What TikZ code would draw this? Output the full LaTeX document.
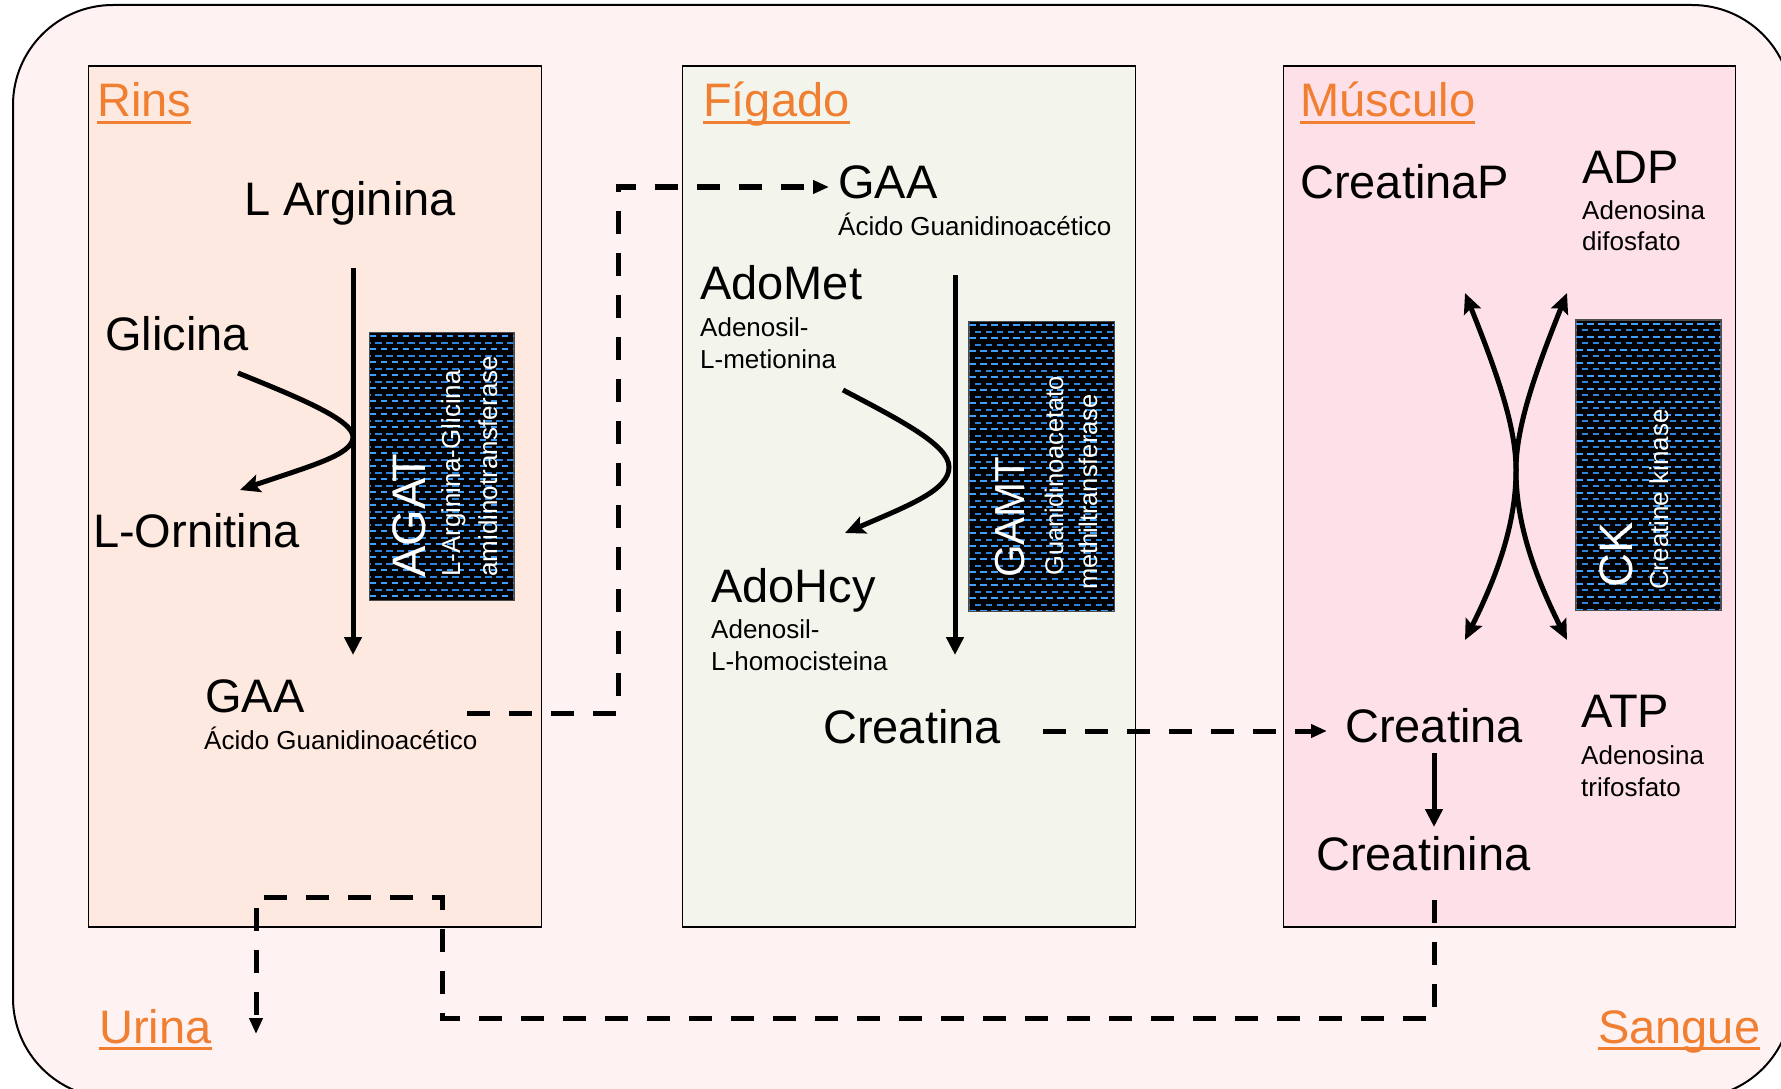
\documentclass[tikz,border=0pt]{standalone}
\usepackage{fontspec}
\setmainfont{Liberation Sans}
\usetikzlibrary{arrows.meta}
\definecolor{outerbg}{HTML}{FFF2F2}
\definecolor{rinsbg}{HTML}{FDE9E0}
\definecolor{figbg}{HTML}{F3F4EB}
\definecolor{musbg}{HTML}{FDE0E8}
\definecolor{ttlorange}{HTML}{F07F32}
\definecolor{dashA}{HTML}{3FA0FF}
\definecolor{dashB}{HTML}{2E84DC}
\newcommand\bigf{\fontsize{47pt}{56pt}\selectfont}
\newcommand\smallf{\fontsize{26pt}{31pt}\selectfont}
\newcommand\gamtf{\fontsize{42pt}{50pt}\selectfont}
\newcommand\gsmallf{\fontsize{25.5pt}{30pt}\selectfont}
% pattern of dashed blue rows inside an enzyme box: x1 y1 x2 y2
\newcommand\enzpattern[4]{%
\begin{scope}
\clip (#1,#2) rectangle (#3,#4);
\foreach \r in {0,...,46}{%
 \pgfmathsetmacro\ph{mod(\r,2)*5.5}%
 \pgfmathsetmacro\yy{#2+3.5+\r*6.5}%
 \ifodd\r \def\cc{dashB}\else\def\cc{dashA}\fi
 \draw[\cc, line width=2pt, dash pattern=on 6.5pt off 4.5pt, dash phase={\ph pt}] (#1,\yy) -- (#3,\yy);
}
\end{scope}}
\begin{document}
\begin{tikzpicture}[x=1pt,y=-1pt,
 lbl/.style={inner sep=0pt, anchor=base west, font=\bigf},
 sub/.style={inner sep=0pt, anchor=base west, font=\smallf},
 ttl/.style={inner sep=0pt, anchor=base west, font=\bigf, text=ttlorange},
 uline/.style={draw=ttlorange, line width=2.7pt},
 panel/.style={draw=black, line width=1.8pt},
 enz/.style={draw=gray!60!black, line width=1pt, fill=black, inner sep=0pt},
 enztxt/.style={inner sep=0pt, anchor=base west, rotate=90, text=white},
 flow/.style={line width=5pt, -{Triangle[length=18pt,width=17pt]}},
 curvearr/.style={line width=5pt, -{Stealth[length=20pt,width=18pt,inset=4pt]}},
 ckarr/.style={line width=5pt, {Stealth[length=20pt,width=18pt,inset=3.5pt]}-{Stealth[length=20pt,width=18pt,inset=3.5pt]}},
 dflow/.style={line width=5pt, dash pattern=on 23pt off 19pt, -{Triangle[length=16pt,width=13pt]}},
]
\useasboundingbox (0,0) rectangle (1781,1089);
% outer rounded background
\draw[line width=2pt, rounded corners=100pt, fill=outerbg] (13,5) rectangle (1792,1098);
% panels
\draw[panel, fill=rinsbg] (88.5,66) rectangle (541.5,927);
\draw[panel, fill=figbg] (682.5,66) rectangle (1135.5,927);
\draw[panel, fill=musbg] (1283.5,66) rectangle (1735.5,927);

% titles
\node[ttl] (rins) at (97,117) {Rins};
\node[ttl] (figado) at (703,117) {Fígado};
\node[ttl] (musculo) at (1300,117) {Músculo};
\node[ttl] (urina) at (99,1043) {Urina};
\node[ttl] (sangue) at (1598,1043) {Sangue};
\foreach \t in {rins,figado,musculo,urina,sangue}{
 \draw[uline] ([yshift=-5.5pt]\t.base west) -- ([yshift=-5.5pt]\t.base east);
}

% enzyme boxes
\node[enz, minimum width=144pt, minimum height=267.5pt] (agat) at (441.5,466.25) {};
\enzpattern{369.5}{332.5}{513.5}{600}
\node[enz, minimum width=144.7pt, minimum height=289.3pt] (gamt) at (1041.65,466.35) {};
\enzpattern{969.3}{321.7}{1114}{611}
\node[enz, minimum width=144.7pt, minimum height=290pt] (ck) at (1648.35,465) {};
\enzpattern{1576}{320}{1720.7}{610}
\draw[gray!60!black, line width=1pt] (agat.north west) rectangle (agat.south east);
\draw[gray!60!black, line width=1pt] (gamt.north west) rectangle (gamt.south east);
\draw[gray!60!black, line width=1pt] (ck.north west) rectangle (ck.south east);

\node[enztxt, font=\bigf] (agatT) at (425,578) {AGAT};
\node[enztxt, font=\smallf] (agatS1) at (460,577) {L-Arginina-Glicina};
\node[enztxt, font=\smallf] (agatS2) at (497,577) {amidinotransferase};
\node[enztxt, font=\gamtf] (gamtT) at (1024,578) {GAMT};
\node[enztxt, font=\gsmallf] (gamtS1) at (1063,576) {Guanidinoacetato};
\node[enztxt, font=\gsmallf] (gamtS2) at (1097,590) {methiltransferase};
\node[enztxt, font=\bigf] (ckT) at (1632,588) {CK};
\node[enztxt, font=\smallf] (ckS) at (1668,590) {Creatine kinase};

% Rins texts
\node[lbl] (larg) at (244,215) {L Arginina};
\node[lbl] (glic) at (105,350) {Glicina};
\node[lbl] (lorn) at (93,547) {L-Ornitina};
\node[lbl] (gaa1) at (205,712) {GAA};
\node[sub] (gaa1s) at (204,749) {Ácido Guanidinoacético};

% Figado texts
\node[lbl] (gaa2) at (838,198) {GAA};
\node[sub] (gaa2s) at (838,235) {Ácido Guanidinoacético};
\node[lbl] (adomet) at (700,299) {AdoMet};
\node[sub] (adomet1) at (700,336) {Adenosil-};
\node[sub] (adomet2) at (700,368) {L-metionina};
\node[lbl] (adohcy) at (711,602) {AdoHcy};
\node[sub] (adohcy1) at (711,638) {Adenosil-};
\node[sub] (adohcy2) at (711,670) {L-homocisteina};
\node[lbl] (crea1) at (823,743) {Creatina};

% Musculo texts
\node[lbl] (creap) at (1300,198) {CreatinaP};
\node[lbl] (adp) at (1582,183) {ADP};
\node[sub] (adp1) at (1582,219) {Adenosina};
\node[sub] (adp2) at (1582,250) {difosfato};
\node[lbl] (crea2) at (1345,742) {Creatina};
\node[lbl] (atp) at (1581,727) {ATP};
\node[sub] (atp1) at (1581,764) {Adenosina};
\node[sub] (atp2) at (1581,796) {trifosfato};
\node[lbl] (creat) at (1316,870) {Creatinina};

% Rins reaction
\coordinate (ra) at (353,268);
\coordinate (rb) at (353,655);
\draw[flow] (ra) -- (rb);
\coordinate (rc1) at (238,373);
\coordinate (rcv) at (353,437);
\coordinate (rc2) at (240,490);
\draw[curvearr] (rc1) .. controls (300,398) and (353,420) .. (rcv) .. controls (353,455) and (310,466) .. (rc2);

% Figado reaction
\coordinate (fa) at (955,275);
\coordinate (fb) at (955,655);
\draw[flow] (fa) -- (fb);
\coordinate (fc1) at (843,390);
\coordinate (fcv) at (949,467);
\coordinate (fc2) at (845,533);
\draw[curvearr] (fc1) .. controls (900,420) and (949,445) .. (fcv) .. controls (949,490) and (910,505) .. (fc2);

% CK reaction
\coordinate (k1) at (1465,293);
\coordinate (k2) at (1465,640);
\coordinate (k3) at (1567,293);
\coordinate (k4) at (1567,640);
\coordinate (km) at (1516,470);
\draw[ckarr] (k1) .. controls (1500,380) and (1516,430) .. (km) .. controls (1516,520) and (1500,570) .. (k2);
\draw[ckarr] (k3) .. controls (1532,380) and (1516,430) .. (km) .. controls (1516,520) and (1532,570) .. (k4);

% Creatina -> Creatinina
\coordinate (m1) at (1434,753);
\coordinate (m2) at (1434,827);
\draw[flow] (m1) -- (m2);

% dashed transports
\coordinate (d1a) at (467,713);
\coordinate (d1b) at (829,187);
\draw[dflow] (d1a) -- (618,713) -- (618,187) -- (d1b);
\coordinate (d2a) at (1043,731);
\coordinate (d2b) at (1327,731);
\draw[dflow] (d2a) -- (d2b);
\coordinate (d3a) at (1434,900);
\coordinate (d3b) at (256,1034);
\draw[dflow] (d3a) -- (1434,1018) -- (442,1018) -- (442,897) -- (256,897) -- (d3b);
\end{tikzpicture}
\end{document}
